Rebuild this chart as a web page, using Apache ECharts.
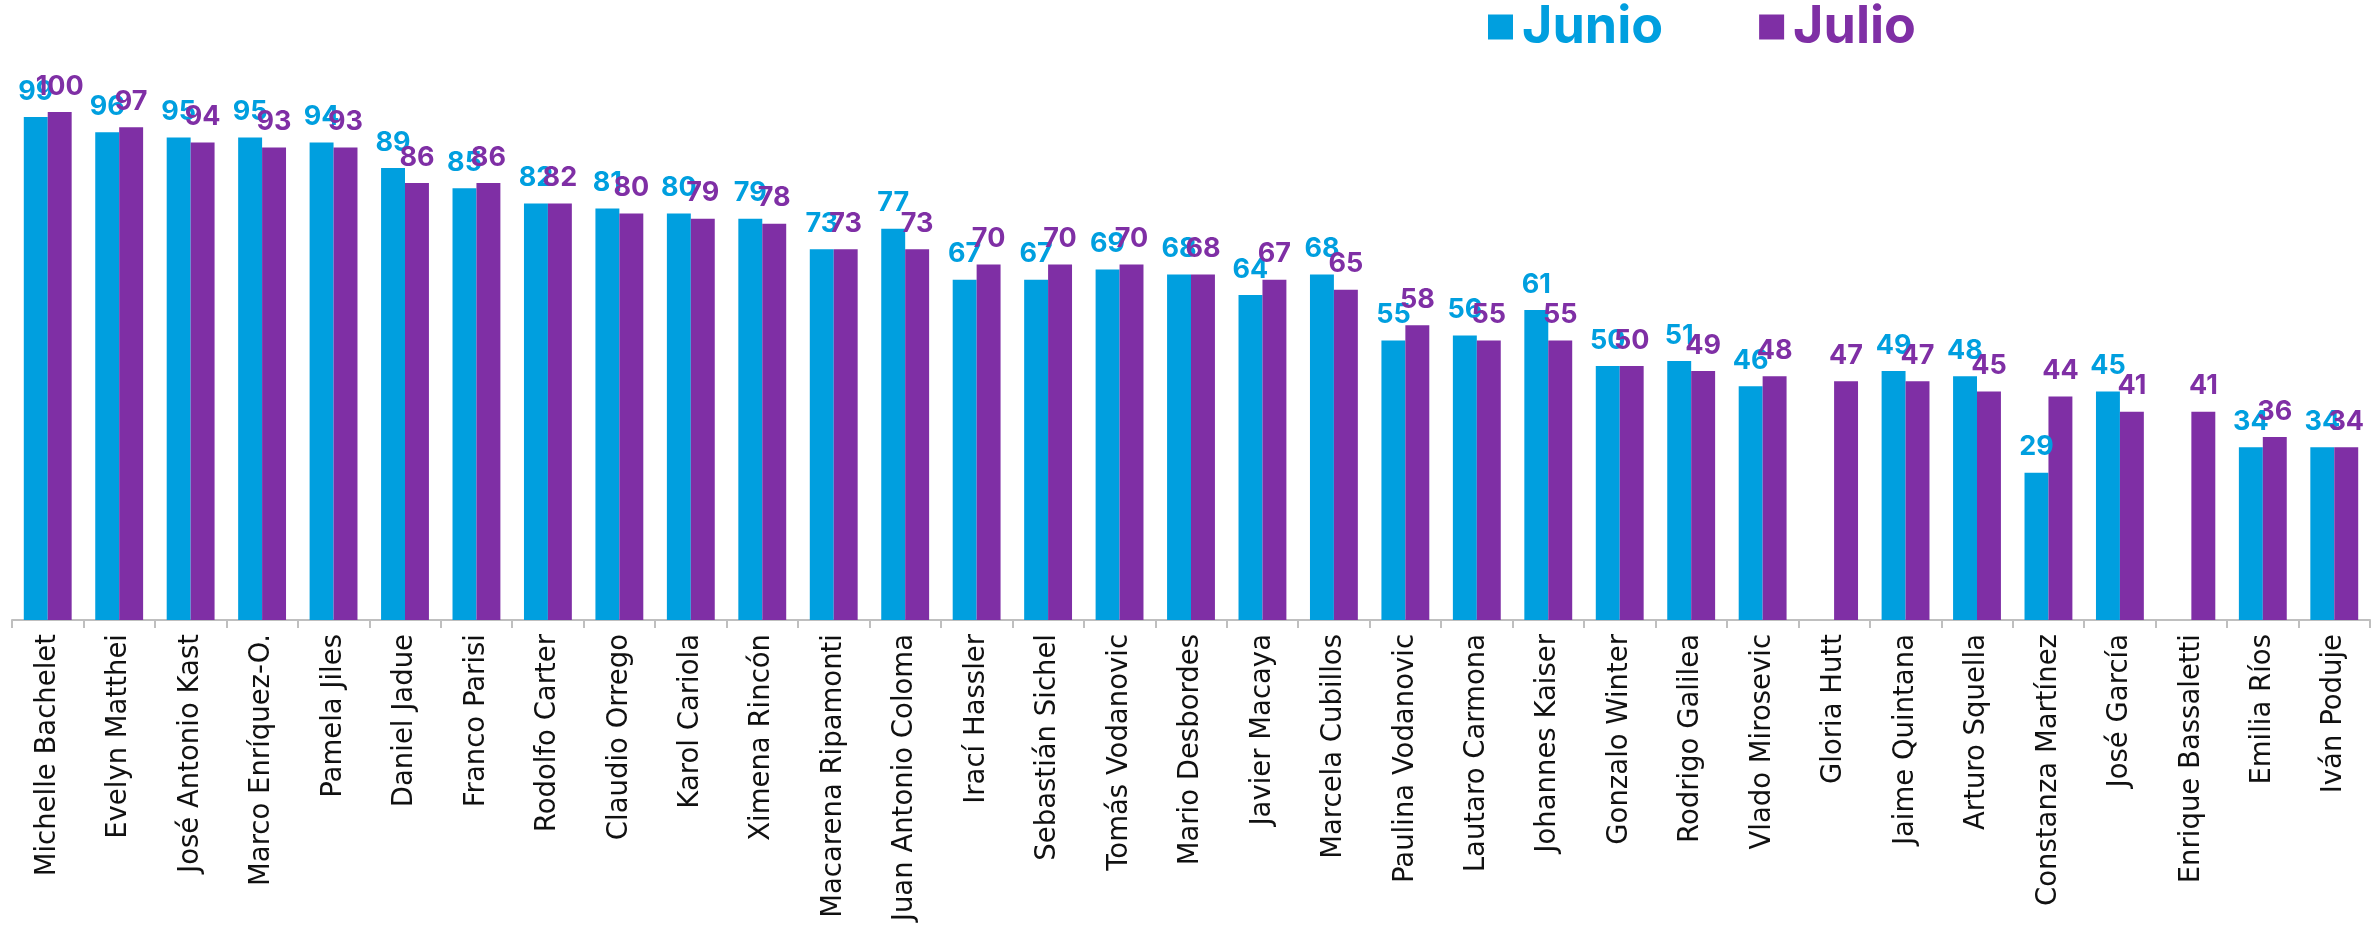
<!DOCTYPE html>
<html>
<head>
<meta charset="utf-8">
<script src="https://cdn.jsdelivr.net/npm/echarts@6/dist/echarts.min.js"></script>
<style>
  html, body { margin: 0; padding: 0; background: #fff; }
  #chart { width: 2379px; height: 930px; }
</style>
</head>
<body>
<div id="chart"></div>
<script>
const nombres = [
  'Michelle Bachelet', 'Evelyn Matthei', 'José Antonio Kast', 'Marco Enríquez-O.',
  'Pamela Jiles', 'Daniel Jadue', 'Franco Parisi', 'Rodolfo Carter', 'Claudio Orrego',
  'Karol Cariola', 'Ximena Rincón', 'Macarena Ripamonti', 'Juan Antonio Coloma',
  'Irací Hassler', 'Sebastián Sichel', 'Tomás Vodanovic', 'Mario Desbordes',
  'Javier Macaya', 'Marcela Cubillos', 'Paulina Vodanovic', 'Lautaro Carmona',
  'Johannes Kaiser', 'Gonzalo Winter', 'Rodrigo Galilea', 'Vlado Mirosevic',
  'Gloria Hutt', 'Jaime Quintana', 'Arturo Squella', 'Constanza Martínez',
  'José García', 'Enrique Bassaletti', 'Emilia Ríos', 'Iván Poduje'
];
const junio = [99, 96, 95, 95, 94, 89, 85, 82, 81, 80, 79, 73, 77, 67, 67, 69, 68,
  64, 68, 55, 56, 61, 50, 51, 46, null, 49, 48, 29, 45, null, 34, 34];
const julio = [100, 97, 94, 93, 93, 86, 86, 82, 80, 79, 78, 73, 73, 70, 70, 70, 68,
  67, 65, 58, 55, 55, 50, 49, 48, 47, 47, 45, 44, 41, 41, 36, 34];

const azul = '#009FDF';
const morado = '#7F2FA5';

const chart = echarts.init(document.getElementById('chart'));

function serie(name, data, color) {
  return {
    name: name,
    type: 'bar',
    data: data,
    barGap: '0%',
    barCategoryGap: '33%',
    itemStyle: { color: color },
    label: {
      show: true,
      position: 'top',
      distance: 12,
      color: color,
      fontFamily: 'Inter',
      fontWeight: 'bold',
      fontSize: 27
    }
  };
}

chart.setOption({
  animation: false,
  legend: {
    left: 1483,
    top: -4,
    icon: 'rect',
    itemWidth: 25,
    itemHeight: 25,
    itemGap: 96,
    textStyle: { fontFamily: 'Inter', fontWeight: 'bold', fontSize: 52, padding: [0, 0, 0, 4] },
    data: [
      { name: 'Junio', textStyle: { color: azul } },
      { name: 'Julio', textStyle: { color: morado } }
    ]
  },
  grid: { left: 12, right: 9, top: 112, bottom: 310 },
  xAxis: {
    type: 'category',
    data: nombres,
    axisLine: { lineStyle: { color: '#BFBFBF', width: 2 } },
    axisTick: { show: true, length: 8, lineStyle: { color: '#BFBFBF', width: 2 } },
    axisLabel: {
      rotate: 90,
      interval: 0,
      margin: 14,
      color: '#111',
      fontFamily: 'DejaVu Sans',
      fontSize: 27.5
    }
  },
  yAxis: {
    type: 'value',
    min: 0,
    max: 100,
    show: false,
    splitLine: { show: false }
  },
  series: [
    serie('Junio', junio, azul),
    serie('Julio', julio, morado)
  ]
});
</script>
</body>
</html>
